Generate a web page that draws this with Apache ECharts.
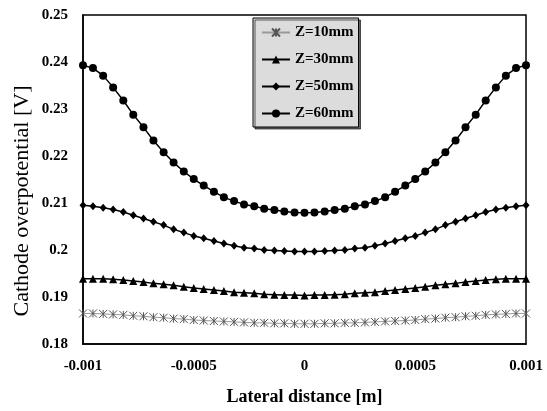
<!DOCTYPE html>
<html>
<head>
<meta charset="utf-8">
<script src="https://cdn.jsdelivr.net/npm/echarts@6/dist/echarts.min.js"></script>
<style>
html,body{margin:0;padding:0;background:#fff;}
#main{width:547px;height:411px;}
</style>
</head>
<body>
<div id="main"></div>
<script>
var xValues = [-0.001,-0.000955,-0.000909,-0.000864,-0.000818,-0.000773,-0.000727,-0.000682,-0.000636,-0.000591,-0.000545,-0.0005,-0.000455,-0.000409,-0.000364,-0.000318,-0.000273,-0.000227,-0.000182,-0.000136,-0.000091,-0.000045,0,0.000045,0.000091,0.000136,0.000182,0.000227,0.000273,0.000318,0.000364,0.000409,0.000455,0.0005,0.000545,0.000591,0.000636,0.000682,0.000727,0.000773,0.000818,0.000864,0.000909,0.000955,0.001];
var z10 = [0.1865,0.1865,0.1864,0.1863,0.1862,0.1860,0.1859,0.1857,0.1856,0.1854,0.1853,0.1851,0.1850,0.1849,0.1848,0.1847,0.1846,0.1845,0.1845,0.1844,0.1844,0.1843,0.1843,0.1843,0.1844,0.1844,0.1845,0.1845,0.1846,0.1847,0.1848,0.1849,0.1850,0.1851,0.1853,0.1854,0.1856,0.1857,0.1859,0.1860,0.1862,0.1863,0.1864,0.1865,0.1865];
var z30 = [0.1939,0.1939,0.1939,0.1938,0.1936,0.1934,0.1932,0.1929,0.1927,0.1925,0.1922,0.1919,0.1917,0.1915,0.1913,0.1910,0.1909,0.1908,0.1906,0.1905,0.1904,0.1904,0.1903,0.1904,0.1904,0.1905,0.1906,0.1908,0.1909,0.1910,0.1913,0.1915,0.1917,0.1919,0.1922,0.1925,0.1927,0.1929,0.1932,0.1934,0.1936,0.1938,0.1939,0.1939,0.1939];
var z50 = [0.2095,0.2093,0.2090,0.2086,0.2081,0.2074,0.2067,0.2060,0.2053,0.2044,0.2037,0.2030,0.2025,0.2019,0.2014,0.2009,0.2005,0.2003,0.2000,0.1999,0.1998,0.1997,0.1997,0.1997,0.1998,0.1999,0.2000,0.2003,0.2005,0.2009,0.2014,0.2019,0.2025,0.2030,0.2037,0.2044,0.2053,0.2060,0.2067,0.2074,0.2081,0.2086,0.2090,0.2093,0.2095];
var z60 = [0.2393,0.2387,0.2371,0.2346,0.2318,0.2288,0.2261,0.2233,0.2208,0.2186,0.2167,0.2151,0.2137,0.2124,0.2112,0.2104,0.2097,0.2093,0.2088,0.2085,0.2082,0.2080,0.2079,0.2080,0.2082,0.2085,0.2088,0.2093,0.2097,0.2104,0.2112,0.2124,0.2137,0.2151,0.2167,0.2186,0.2208,0.2233,0.2261,0.2288,0.2318,0.2346,0.2371,0.2387,0.2393];
var seriesNames = ['Z=10mm','Z=30mm','Z=50mm','Z=60mm'];
var xTicks = {min:-0.001, max:0.001, interval:0.0005};
var yTicks = {min:0.18, max:0.25, interval:0.01};

function pairs(ys){ return xValues.map(function(x,i){ return [x, ys[i]]; }); }

var font = '"Liberation Serif","Times New Roman",serif';
var chart = echarts.init(document.getElementById('main'), null, {renderer:'canvas'});
chart.setOption({
  animation:false,
  backgroundColor:'#fff',
  grid:{left:83, right:21, top:15, bottom:62, show:true, borderColor:'#000', borderWidth:1.5, containLabel:false},
  legend:{
    orient:'vertical', left:253, top:18,
    data:seriesNames,
    backgroundColor:'#dcdcdc', borderColor:'#000', borderWidth:1,
    shadowColor:'rgba(0,0,0,0.6)', shadowOffsetX:2, shadowOffsetY:2, shadowBlur:0,
    padding:[7,5,6,8], itemWidth:28, itemHeight:10, itemGap:12,
    textStyle:{fontFamily:font, fontWeight:'bold', fontSize:15, color:'#000'}
  },
  xAxis:{
    type:'value', min:xTicks.min, max:xTicks.max, interval:xTicks.interval,
    name:'Lateral distance [m]', nameLocation:'middle', nameGap:44,
    nameTextStyle:{fontFamily:font, fontWeight:'bold', fontSize:18, color:'#000'},
    axisLine:{show:true, onZero:false, lineStyle:{color:'#000', width:1.5}},
    axisTick:{show:false}, splitLine:{show:false},
    axisLabel:{margin:15, fontFamily:font, fontWeight:'bold', fontSize:15, color:'#000',
      formatter:function(v){ return String(parseFloat(v.toFixed(4))); }}
  },
  yAxis:{
    type:'value', min:yTicks.min, max:yTicks.max, interval:yTicks.interval,
    axisLine:{show:true, onZero:false, lineStyle:{color:'#000', width:1.5}},
    axisTick:{show:false}, splitLine:{show:false},
    axisLabel:{margin:15, fontFamily:font, fontWeight:'bold', fontSize:15, color:'#000',
      formatter:function(v){ return String(parseFloat(v.toFixed(2))); }}
  },
  graphic:[{
    type:'text', x:22, y:201, rotation:Math.PI/2,
    style:{text:'Cathode overpotential [V]', fontFamily:font, fontSize:22, fontWeight:'normal',
      fill:'#000', textAlign:'center', textVerticalAlign:'middle'}
  }],
  series:[
    {name:seriesNames[0], type:'line', data:pairs(z10),
      symbol:'path://M0,0L10,10M10,0L0,10M5,0L5,10', symbolSize:8,
      itemStyle:{color:'#555', borderColor:'#555', borderWidth:1},
      lineStyle:{color:'#999', width:1}},
    {name:seriesNames[1], type:'line', data:pairs(z30),
      symbol:'triangle', symbolSize:8,
      itemStyle:{color:'#000'}, lineStyle:{color:'#000', width:1.5}},
    {name:seriesNames[2], type:'line', data:pairs(z50),
      symbol:'diamond', symbolSize:[7,8],
      itemStyle:{color:'#000'}, lineStyle:{color:'#000', width:1.5}},
    {name:seriesNames[3], type:'line', data:pairs(z60),
      symbol:'circle', symbolSize:8,
      itemStyle:{color:'#000'}, lineStyle:{color:'#000', width:1.5}}
  ]
});
</script>
</body>
</html>
